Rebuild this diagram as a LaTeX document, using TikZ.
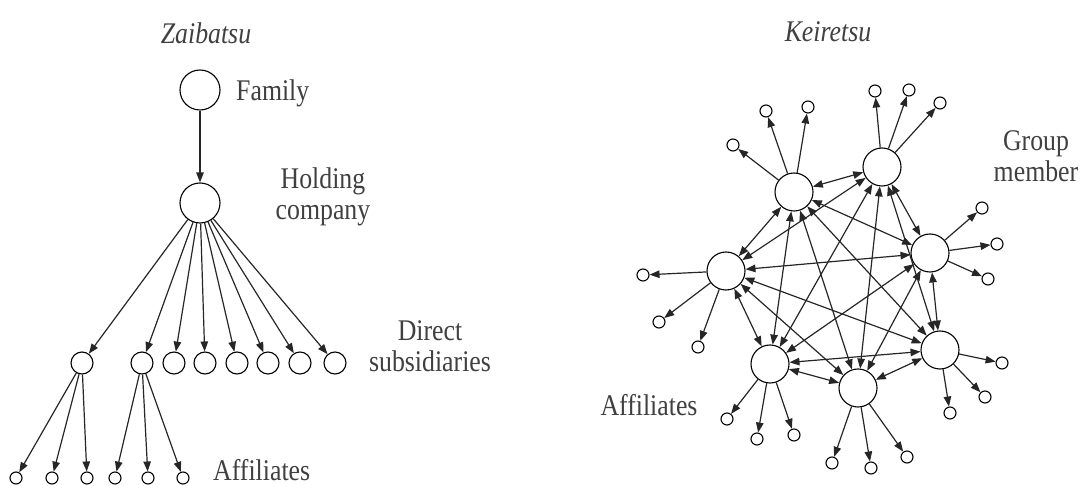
\documentclass[tikz,border=0pt]{standalone}
\usepackage{fontspec}
\setmainfont{Liberation Serif}[FakeStretch=0.86]
\usetikzlibrary{arrows.meta}
\begin{document}
\begin{tikzpicture}[x=1pt, y=-1pt,
		big/.style={circle, draw, line width=1.1pt, minimum size=40pt, inner sep=0pt},
		member/.style={circle, draw, line width=1.1pt, minimum size=38pt, inner sep=0pt},
		sub/.style={circle, draw, line width=1.1pt, minimum size=22pt, inner sep=0pt},
		aff/.style={circle, draw, line width=1.1pt, minimum size=12pt, inner sep=0pt},
		lbl/.style={text=black!75, inner sep=0pt, font=\fontsize{30}{31}\selectfont, align=center},
		arr/.style={draw=black!85, line width=1.2pt, -{Triangle[length=10pt, width=7.5pt]}},
		both/.style={draw=black!85, line width=1.2pt, {Triangle[length=10pt, width=7.5pt]}-{Triangle[length=10pt, width=7.5pt]}}]
		
		\useasboundingbox (0, 0) rectangle (1085, 486);
		
		% Zaibatsu
		\node [lbl, font=\fontsize{30}{31}\selectfont\itshape] (ztitle) at (206, 33) {Zaibatsu};
		\node [big] (fam) at (200, 90) {};
		\node [big] (hold) at (200, 203) {};
		\node [lbl, anchor=west] (famtxt) at (236, 93) {Family};
		\node [lbl] (holdtxt) at (323, 197) {Holding\\company};
		
		\node [sub] (s1) at (82, 363) {};
		\node [sub] (s2) at (142, 363) {};
		\node [sub] (s3) at (174, 363) {};
		\node [sub] (s4) at (205, 363) {};
		\node [sub] (s5) at (237, 363) {};
		\node [sub] (s6) at (268, 363) {};
		\node [sub] (s7) at (300, 363) {};
		\node [sub] (s8) at (335, 363) {};
		\node [lbl] (subtxt) at (430, 346) {Direct\\subsidiaries};
		
		\node [aff] (a1) at (16, 478) {};
		\node [aff] (a2) at (52, 478) {};
		\node [aff] (a3) at (87, 478) {};
		\node [aff] (a4) at (115, 478) {};
		\node [aff] (a5) at (148, 478) {};
		\node [aff] (a6) at (183, 478) {};
		\node [lbl, anchor=west] (afftxt) at (213, 470) {Affiliates};
		
		\draw [arr] (fam) -- (hold);
		\draw [arr] (hold) -- (s1);
		\draw [arr] (hold) -- (s2);
		\draw [arr] (hold) -- (s3);
		\draw [arr] (hold) -- (s4);
		\draw [arr] (hold) -- (s5);
		\draw [arr] (hold) -- (s6);
		\draw [arr] (hold) -- (s7);
		\draw [arr] (hold) -- (s8);
		\draw [arr] (s1) -- (a1);
		\draw [arr] (s1) -- (a2);
		\draw [arr] (s1) -- (a3);
		\draw [arr] (s2) -- (a4);
		\draw [arr] (s2) -- (a5);
		\draw [arr] (s2) -- (a6);
		
		% Keiretsu
		\node [lbl, font=\fontsize{30}{31}\selectfont\itshape] (ktitle) at (828, 32) {Keiretsu};
		\node [member] (m1) at (794, 192) {};
		\node [member] (m2) at (882, 167) {};
		\node [member] (m3) at (930, 253) {};
		\node [member] (m4) at (940, 350) {};
		\node [member] (m5) at (858, 388) {};
		\node [member] (m6) at (770, 364) {};
		\node [member] (m7) at (726, 271) {};
		\node [lbl] (grouptxt) at (1036, 156) {Group\\member};
		\node [lbl] (kafftxt) at (649, 405) {Affiliates};
		
		\node [aff] (m1a) at (733, 145) {};
		\node [aff] (m1b) at (766, 111) {};
		\node [aff] (m1c) at (808, 107) {};
		\node [aff] (m2a) at (875, 91) {};
		\node [aff] (m2b) at (909, 90) {};
		\node [aff] (m2c) at (940, 103) {};
		\node [aff] (m3a) at (982, 208) {};
		\node [aff] (m3b) at (997, 244) {};
		\node [aff] (m3c) at (988, 279) {};
		\node [aff] (m4a) at (1002, 363) {};
		\node [aff] (m4b) at (985, 397) {};
		\node [aff] (m4c) at (950, 413) {};
		\node [aff] (m5a) at (832, 463) {};
		\node [aff] (m5b) at (871, 468) {};
		\node [aff] (m5c) at (907, 457) {};
		\node [aff] (m6a) at (727, 419) {};
		\node [aff] (m6b) at (757, 439) {};
		\node [aff] (m6c) at (794, 435) {};
		\node [aff] (m7a) at (643, 275) {};
		\node [aff] (m7b) at (659, 322) {};
		\node [aff] (m7c) at (698, 347) {};
		
		\draw [arr] (m1) -- (m1a);
		\draw [arr] (m1) -- (m1b);
		\draw [arr] (m1) -- (m1c);
		\draw [arr] (m2) -- (m2a);
		\draw [arr] (m2) -- (m2b);
		\draw [arr] (m2) -- (m2c);
		\draw [arr] (m3) -- (m3a);
		\draw [arr] (m3) -- (m3b);
		\draw [arr] (m3) -- (m3c);
		\draw [arr] (m4) -- (m4a);
		\draw [arr] (m4) -- (m4b);
		\draw [arr] (m4) -- (m4c);
		\draw [arr] (m5) -- (m5a);
		\draw [arr] (m5) -- (m5b);
		\draw [arr] (m5) -- (m5c);
		\draw [arr] (m6) -- (m6a);
		\draw [arr] (m6) -- (m6b);
		\draw [arr] (m6) -- (m6c);
		\draw [arr] (m7) -- (m7a);
		\draw [arr] (m7) -- (m7b);
		\draw [arr] (m7) -- (m7c);
		
		\draw [both] (m1) -- (m2);
		\draw [both] (m1) -- (m3);
		\draw [both] (m1) -- (m4);
		\draw [both] (m1) -- (m5);
		\draw [both] (m1) -- (m6);
		\draw [both] (m1) -- (m7);
		\draw [both] (m2) -- (m3);
		\draw [both] (m2) -- (m4);
		\draw [both] (m2) -- (m5);
		\draw [both] (m2) -- (m6);
		\draw [both] (m2) -- (m7);
		\draw [both] (m3) -- (m4);
		\draw [both] (m3) -- (m5);
		\draw [both] (m3) -- (m6);
		\draw [both] (m3) -- (m7);
		\draw [both] (m4) -- (m5);
		\draw [both] (m4) -- (m6);
		\draw [both] (m4) -- (m7);
		\draw [both] (m5) -- (m6);
		\draw [both] (m5) -- (m7);
		\draw [both] (m6) -- (m7);
		
	\end{tikzpicture}
\end{document}
